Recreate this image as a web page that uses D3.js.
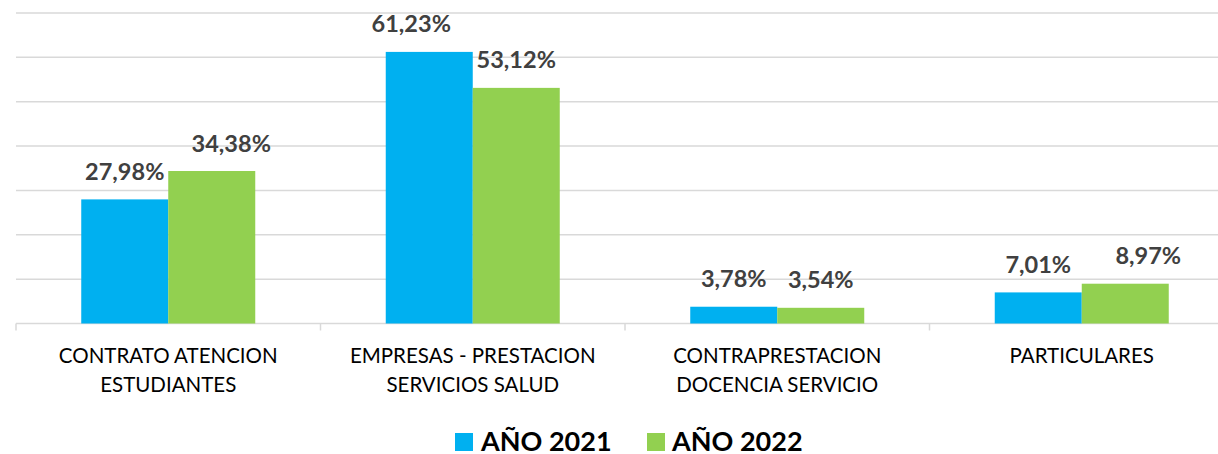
<!DOCTYPE html>
<html>
<head>
<meta charset="utf-8">
<script src="https://cdn.jsdelivr.net/npm/d3@7"></script>
<style>
  html, body { margin: 0; padding: 0; background: #fff; }
  svg { display: block; }
</style>
</head>
<body>
<svg id="chart" width="1218" height="454"></svg>
<script>
const categories = [
	['CONTRATO ATENCION', 'ESTUDIANTES'],
	['EMPRESAS - PRESTACION', 'SERVICIOS SALUD'],
	['CONTRAPRESTACION', 'DOCENCIA SERVICIO'],
	['PARTICULARES'],
];
const seriesNames = ['AÑO 2021', 'AÑO 2022'];
const values2021 = [27.98, 61.23, 3.78, 7.01];
const values2022 = [34.38, 53.12, 3.54, 8.97];
const colors = ['#00B0F0', '#92D050'];
const yTicks = [0, 10, 20, 30, 40, 50, 60, 70];

// some labels were dragged sideways in the original
const labelNudge = [
	[0, -18, 0, 0],
	[19.5, 0, 0, 23],
];

const svg = d3.select('#chart');
const plotLeft = 16, plotRight = 1234, plotTop = 13, plotBottom = 323.5;

const x = d3.scaleBand()
	.domain(d3.range(categories.length))
	.range([plotLeft, plotRight])
	.paddingInner(0)
	.paddingOuter(0);

const y = d3.scaleLinear().domain([0, 70]).range([plotBottom, plotTop]);

// gridlines
svg.append('g')
	.selectAll('line')
	.data(yTicks)
	.join('line')
	.attr('x1', plotLeft)
	.attr('x2', plotRight)
	.attr('y1', (d) => y(d))
	.attr('y2', (d) => y(d))
	.style('stroke', '#d9d9d9')
	.style('stroke-width', 1.5);

// category tick marks
svg.append('g')
	.selectAll('line')
	.data(d3.range(categories.length + 1))
	.join('line')
	.attr('x1', (i) => plotLeft + i * x.bandwidth())
	.attr('x2', (i) => plotLeft + i * x.bandwidth())
	.attr('y1', plotBottom)
	.attr('y2', plotBottom + 7)
	.style('stroke', '#d9d9d9')
	.style('stroke-width', 1.5);

const barW = x.bandwidth() / 3.5;
const series = [values2021, values2022];

series.forEach((vals, s) => {
	const g = svg.append('g');
	const bx = (i) => x(i) + x.bandwidth() / 2 - barW + s * barW;
	g.selectAll('rect')
		.data(vals)
		.join('rect')
		.attr('x', (d, i) => bx(i))
		.attr('y', (d) => y(d))
		.attr('width', barW)
		.attr('height', (d) => plotBottom - y(d))
		.style('fill', colors[s]);
	g.selectAll('text')
		.data(vals)
		.join('text')
		.attr('x', (d, i) => bx(i) + barW / 2 + labelNudge[s][i])
		.attr('y', (d) => y(d) - 19.5)
		.attr('text-anchor', 'middle')
		.style('font-family', 'Lato, sans-serif')
		.style('font-weight', 'bold')
		.style('font-size', '23.5px')
		.style('fill', '#404040')
		.text((d) => d.toFixed(2).replace('.', ',') + '%');
});

// category labels
const cat = svg.append('g')
	.selectAll('text')
	.data(categories)
	.join('text')
	.attr('x', (d, i) => x(i) + x.bandwidth() / 2)
	.attr('y', 363)
	.attr('text-anchor', 'middle')
	.style('font-family', 'Lato, sans-serif')
	.style('font-size', '20.5px')
	.style('fill', '#000');
cat.selectAll('tspan')
	.data((d) => d)
	.join('tspan')
	.attr('x', function () { return d3.select(this.parentNode).attr('x'); })
	.attr('dy', (d, j) => (j === 0 ? 0 : 29))
	.text((d) => d);

// legend
const legendX = [455, 647];
const lg = svg.append('g')
	.selectAll('g')
	.data(seriesNames)
	.join('g')
	.attr('transform', (d, i) => `translate(${legendX[i]},433)`);
lg.append('rect')
	.attr('width', 18)
	.attr('height', 18)
	.style('fill', (d, i) => colors[i]);
lg.append('text')
	.attr('x', (d, i) => (i === 0 ? 26 : 25))
	.attr('y', 17.5)
	.style('font-family', 'Lato, sans-serif')
	.style('font-weight', 'bold')
	.style('font-size', '27px')
	.style('fill', '#000')
	.text((d) => d);
</script>
</body>
</html>
